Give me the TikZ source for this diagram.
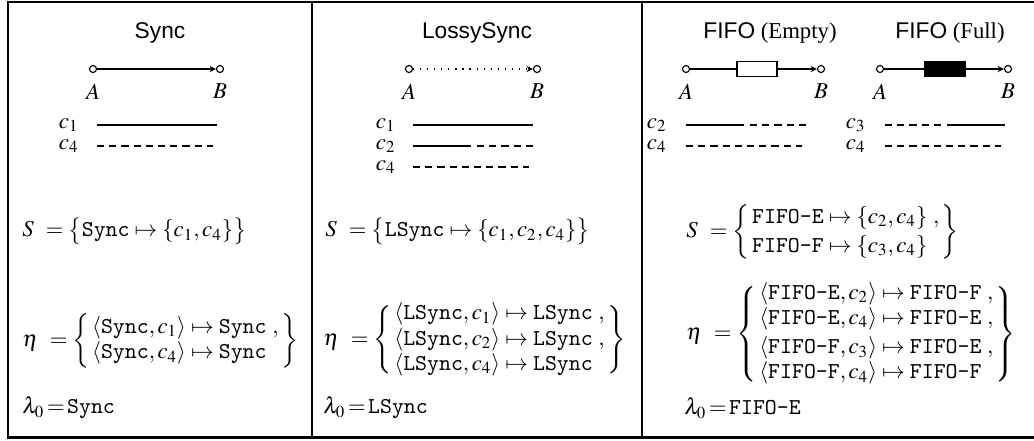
\documentclass[tikz,border=0pt]{standalone}
\usepackage{amsmath}
\usepackage{mathptmx}
\usepackage[no-math]{fontspec}
\setmainfont{Liberation Serif}
\setsansfont{Liberation Sans}
\setmonofont{Latin Modern Mono}
\usetikzlibrary{arrows.meta, positioning}
\renewcommand{\arraystretch}{0.92}

\begin{document}
\begin{tikzpicture}[x=0.44pt, y=-0.44pt,
    node distance=1.2pt,
    port/.style={circle, draw, fill=white, line width=0.5pt, inner sep=0pt, minimum size=3.1pt},
    chan/.style={line width=0.65pt},
    arr/.style={chan, -{Stealth[length=2.8pt, width=2.8pt]}},
    buf/.style={draw, line width=0.55pt, minimum width=17.6pt, minimum height=6.6pt, inner sep=0pt},
    ttl/.style={font=\sffamily},
    cl/.style={anchor=east, inner sep=0pt},
    eq/.style={anchor=west, inner sep=0pt},
    leg/.style={line width=0.6pt},
    dsh/.style={leg, dash pattern=on 3.14pt off 2.23pt}
  ]
    \useasboundingbox (0,0) rectangle (1034,440);
    \draw[line width=0.9pt] (8,1.8) rectangle (1060,437.5);
    \draw[line width=0.9pt] (312,1.8) -- (312,437.5) (642,1.8) -- (642,437.5);

    \node[ttl] (tsync) at (160,33) {Sync};
    \node[ttl] (tlossy) at (477,33) {LossySync};
    \node (tfe) at (770,33) {\textsf{FIFO} (Empty)};
    \node (tff) at (950,33) {\textsf{FIFO} (Full)};

    \node[port] (sA) at (93,69) {};
    \node[port] (sB) at (220,69) {};
    \node[below=of sA] (sAl) {$A$};
    \node[below=of sB] (sBl) {$B$};
    \draw[arr] (sA) -- (sB);

    \node[port] (lA) at (409,69) {};
    \node[port] (lB) at (537,69) {};
    \node[below=of lA] (lAl) {$A$};
    \node[below=of lB] (lBl) {$B$};
    \draw[arr, dash pattern=on 0.5pt off 2.6pt] (lA) -- (lB);

    \node[port] (eA) at (686,69) {};
    \node[port] (eB) at (821,69) {};
    \node[buf, fill=white] (ebuf) at (757,69) {};
    \node[below=of eA] (eAl) {$A$};
    \node[below=of eB] (eBl) {$B$};
    \draw[chan] (eA) -- (ebuf);
    \draw[arr] (ebuf) -- (eB);

    \node[port] (fA) at (880,69) {};
    \node[port] (fB) at (1008,69) {};
    \node[buf, fill=black] (fbuf) at (945,69) {};
    \node[below=of fA] (fAl) {$A$};
    \node[below=of fB] (fBl) {$B$};
    \draw[chan] (fA) -- (fbuf);
    \draw[arr] (fbuf) -- (fB);

    \node[cl] (sc1) at (79,125) {$c_1$};
    \node[cl] (sc4) at (79,146) {$c_4$};
    \draw[leg] (sc1.east) ++(18,0) -- ++(120,0);
    \draw[dsh] (sc4.east) ++(18,0) -- ++(116,0);

    \node[cl] (lc1) at (396,125) {$c_1$};
    \node[cl] (lc2) at (396,146) {$c_2$};
    \node[cl] (lc4) at (396,167) {$c_4$};
    \draw[leg] (lc1.east) ++(17,0) -- ++(120,0);
    \draw[leg] (lc2.east) ++(17,0) -- ++(58,0);
    \draw[dsh] (lc2.east) ++(81,0) -- ++(56,0);
    \draw[dsh] (lc4.east) ++(17,0) -- ++(116,0);

    \node[cl] (ec2) at (667,125) {$c_2$};
    \node[cl] (ec4) at (667,146) {$c_4$};
    \draw[leg] (ec2.east) ++(19,0) -- ++(58,0);
    \draw[dsh] (ec2.east) ++(83,0) -- ++(56,0);
    \draw[dsh] (ec4.east) ++(19,0) -- ++(116,0);

    \node[cl] (fc3) at (866,125) {$c_3$};
    \node[cl] (fc4) at (866,146) {$c_4$};
    \draw[dsh] (fc3.east) ++(19,0) -- ++(56,0);
    \draw[leg] (fc3.east) ++(81,0) -- ++(58,0);
    \draw[dsh] (fc4.east) ++(19,0) -- ++(116,0);

    \node[eq] (sS) at (22,231) {$S\hspace{3pt}= \bigl\{\texttt{Sync}\mapsto\{c_1,c_4\}\bigr\}$};
    \node[eq] (sE) at (22,341) {$\eta\hspace{3pt}= \left\{\begin{array}{@{\,}l@{\,}}
        \langle\texttt{Sync},c_1\rangle\mapsto\texttt{Sync}\ ,\\
        \langle\texttt{Sync},c_4\rangle\mapsto\texttt{Sync}
      \end{array}\right\}$};
    \node[eq] (sL) at (22,408) {$\lambda_0{\,=\,}\texttt{Sync}$};

    \node[eq] (lS) at (325,231) {$S\hspace{3pt}= \bigl\{\texttt{LSync}\mapsto\{c_1,c_2,c_4\}\bigr\}$};
    \node[eq] (lE) at (323,340) {$\eta\hspace{3pt}= \left\{\begin{array}{@{\,}l@{\,}}
        \langle\texttt{LSync},c_1\rangle\mapsto\texttt{LSync}\ ,\\
        \langle\texttt{LSync},c_2\rangle\mapsto\texttt{LSync}\ ,\\
        \langle\texttt{LSync},c_4\rangle\mapsto\texttt{LSync}
      \end{array}\right\}$};
    \node[eq] (lL) at (323,408) {$\lambda_0{\,=\,}\texttt{LSync}$};

    \node[eq] (fS) at (686,232) {\renewcommand{\arraystretch}{1.05}$S\hspace{3pt}= \left\{\begin{array}{@{\,}l@{\,}}
        \texttt{FIFO-E}\mapsto\{c_2,c_4\}\ ,\\
        \texttt{FIFO-F}\mapsto\{c_3,c_4\}
      \end{array}\right\}$};
    \node[eq] (fE) at (686,334) {$\eta\hspace{3pt}= \left\{\begin{array}{@{\,}l@{\,}}
        \langle\texttt{FIFO-E},c_2\rangle\mapsto\texttt{FIFO-F}\ ,\\
        \langle\texttt{FIFO-E},c_4\rangle\mapsto\texttt{FIFO-E}\ ,\\[2pt]
        \langle\texttt{FIFO-F},c_3\rangle\mapsto\texttt{FIFO-E}\ ,\\
        \langle\texttt{FIFO-F},c_4\rangle\mapsto\texttt{FIFO-F}
      \end{array}\right\}$};
    \node[eq] (fL) at (684,408) {$\lambda_0{\,=\,}\texttt{FIFO-E}$};
  \end{tikzpicture}
\end{document}
